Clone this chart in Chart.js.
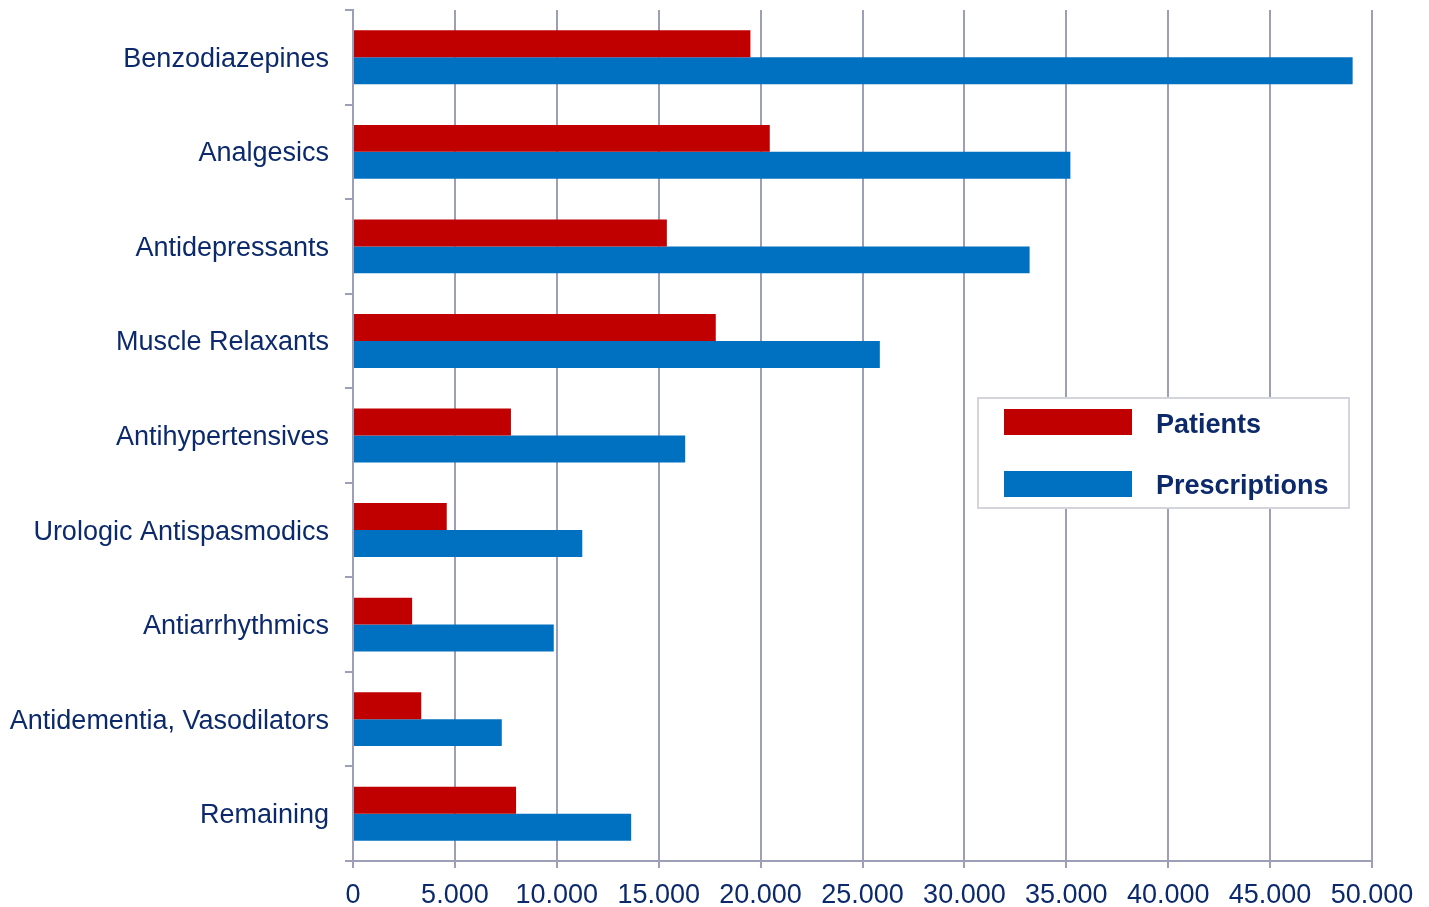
<!DOCTYPE html>
<html>
<head>
<meta charset="utf-8">
<script src="https://cdn.jsdelivr.net/npm/chart.js@4.4.0/dist/chart.umd.min.js"></script>
<style>
html,body{margin:0;padding:0;background:#fff;}
#wrap{width:1429px;height:907px;position:relative;}
</style>
</head>
<body>
<div id="wrap"><canvas id="c" width="1429" height="907"></canvas></div>
<script>
const categories = ["Benzodiazepines","Analgesics","Antidepressants","Muscle Relaxants","Antihypertensives","Urologic Antispasmodics","Antiarrhythmics","Antidementia, Vasodilators","Remaining"];
const patients = [19500, 20450, 15400, 17800, 7750, 4600, 2900, 3350, 8000];
const prescriptions = [49050, 35200, 33200, 25850, 16300, 11250, 9850, 7300, 13650];
const seriesNames = ["Patients","Prescriptions"];
const seriesColors = ["#C00000","#0070C0"];

const textColor = "#0c2a6b";
const gridColor = "#9c9fb7";

const legendBox = {
  id: 'legendBox',
  afterDraw(chart) {
    const ctx = chart.ctx, a = chart.chartArea;
    const x = a.right - 394, y = a.top + 388, w = 371, h = 110;
    ctx.save();
    ctx.fillStyle = '#fff';
    ctx.fillRect(x, y, w, h);
    ctx.strokeStyle = '#d3d4dc';
    ctx.lineWidth = 2;
    ctx.strokeRect(x, y, w, h);
    ctx.font = 'bold 27px "Liberation Sans", Arial, sans-serif';
    ctx.textBaseline = 'middle';
    chart.data.datasets.forEach((ds, i) => {
      const sy = y + 11 + i * 62;
      ctx.fillStyle = ds.backgroundColor;
      ctx.fillRect(x + 26, sy, 128, 26);
      ctx.fillStyle = textColor;
      ctx.fillText(ds.label, x + 178, sy + 17 - i);
    });
    ctx.restore();
  }
};

new Chart(document.getElementById('c'), {
  type: 'bar',
  data: {
    labels: categories,
    datasets: [
      {label: seriesNames[0], data: patients, backgroundColor: seriesColors[0]},
      {label: seriesNames[1], data: prescriptions, backgroundColor: seriesColors[1]}
    ]
  },
  options: {
    indexAxis: 'y',
    responsive: false,
    animation: false,
    layout: {padding: {top: 10, right: 57, left: 0, bottom: 0}},
    datasets: {bar: {categoryPercentage: 0.57, barPercentage: 1.0}},
    plugins: {legend: {display: false}, tooltip: {enabled: false}},
    scales: {
      x: {
        min: 0, max: 50000,
        ticks: {
          stepSize: 5000,
          color: textColor,
          font: {family: '"Liberation Sans", Arial, sans-serif', size: 27},
          padding: 11,
          maxRotation: 0,
          callback: v => v === 0 ? '0' : String(v / 1000) + '.000'
        },
        grid: {color: gridColor, lineWidth: 2, tickLength: 7},
        border: {color: gridColor, width: 2},
        afterFit(s) { s.height = 46; s.paddingRight = 0; s.paddingLeft = 0; }
      },
      y: {
        ticks: {
          color: textColor,
          font: {family: '"Liberation Sans", Arial, sans-serif', size: 27},
          padding: 16,
          labelOffset: 2
        },
        grid: {offset: true, drawOnChartArea: false, color: gridColor, lineWidth: 2, tickLength: 8},
        border: {color: gridColor, width: 2},
        afterFit(s) { s.width = 353; s.paddingTop = 0; s.paddingBottom = 0; }
      }
    }
  },
  plugins: [legendBox]
});
</script>
</body>
</html>
